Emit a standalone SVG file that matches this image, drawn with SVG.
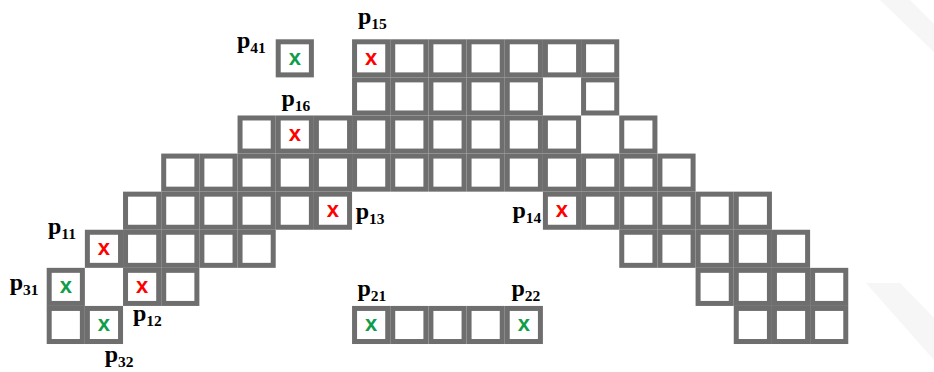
<svg xmlns="http://www.w3.org/2000/svg" xmlns:xlink="http://www.w3.org/1999/xlink" width="934" height="372" viewBox="0 0 934 372">
  <style>
    .cell { fill: #ffffff; stroke: #6e6e6e; stroke-width: 5; }
    .mark { font-family: "Liberation Sans", Arial, sans-serif; font-weight: bold; font-size: 22px; text-anchor: middle; }
    .red { fill: #ff0000; }
    .green { fill: #0f9d4a; }
    .lbl { font-family: "Liberation Serif", "Times New Roman", serif; font-weight: bold; font-size: 24px; fill: #000000; }
    .sub { font-size: 15.5px; }
  </style>
  <defs>
    <!-- one grid square: 38.17 x 38.09 pitch, 5px frame drawn inside -->
    <rect id="cell" class="cell" x="2.5" y="2.5" width="33.17" height="33.09"/>
  </defs>

  <rect width="934" height="372" fill="#ffffff"/>

  <!-- faint corner emblem -->
  <g id="emblem" fill="#f6f6f6">
    <polygon points="880,0 910,0 934,24 934,52"/>
    <polygon points="866,283 900,283 934,318 934,360"/>
  </g>

  <!-- main arch of squares -->
  <g id="arch">
    <!-- row 0 -->
    <use xlink:href="#cell" x="352.06" y="39.3"/>
    <use xlink:href="#cell" x="390.23" y="39.3"/>
    <use xlink:href="#cell" x="428.4" y="39.3"/>
    <use xlink:href="#cell" x="466.57" y="39.3"/>
    <use xlink:href="#cell" x="504.74" y="39.3"/>
    <use xlink:href="#cell" x="542.91" y="39.3"/>
    <use xlink:href="#cell" x="581.08" y="39.3"/>
    <!-- row 1 -->
    <use xlink:href="#cell" x="352.06" y="77.39"/>
    <use xlink:href="#cell" x="390.23" y="77.39"/>
    <use xlink:href="#cell" x="428.4" y="77.39"/>
    <use xlink:href="#cell" x="466.57" y="77.39"/>
    <use xlink:href="#cell" x="504.74" y="77.39"/>
    <use xlink:href="#cell" x="581.08" y="77.39"/>
    <!-- row 2 -->
    <use xlink:href="#cell" x="237.55" y="115.48"/>
    <use xlink:href="#cell" x="275.72" y="115.48"/>
    <use xlink:href="#cell" x="313.89" y="115.48"/>
    <use xlink:href="#cell" x="352.06" y="115.48"/>
    <use xlink:href="#cell" x="390.23" y="115.48"/>
    <use xlink:href="#cell" x="428.4" y="115.48"/>
    <use xlink:href="#cell" x="466.57" y="115.48"/>
    <use xlink:href="#cell" x="504.74" y="115.48"/>
    <use xlink:href="#cell" x="542.91" y="115.48"/>
    <use xlink:href="#cell" x="619.25" y="115.48"/>
    <!-- row 3 -->
    <use xlink:href="#cell" x="161.21" y="153.57"/>
    <use xlink:href="#cell" x="199.38" y="153.57"/>
    <use xlink:href="#cell" x="237.55" y="153.57"/>
    <use xlink:href="#cell" x="275.72" y="153.57"/>
    <use xlink:href="#cell" x="313.89" y="153.57"/>
    <use xlink:href="#cell" x="352.06" y="153.57"/>
    <use xlink:href="#cell" x="390.23" y="153.57"/>
    <use xlink:href="#cell" x="428.4" y="153.57"/>
    <use xlink:href="#cell" x="466.57" y="153.57"/>
    <use xlink:href="#cell" x="504.74" y="153.57"/>
    <use xlink:href="#cell" x="542.91" y="153.57"/>
    <use xlink:href="#cell" x="581.08" y="153.57"/>
    <use xlink:href="#cell" x="619.25" y="153.57"/>
    <use xlink:href="#cell" x="657.42" y="153.57"/>
    <!-- row 4 -->
    <use xlink:href="#cell" x="123.04" y="191.66"/>
    <use xlink:href="#cell" x="161.21" y="191.66"/>
    <use xlink:href="#cell" x="199.38" y="191.66"/>
    <use xlink:href="#cell" x="237.55" y="191.66"/>
    <use xlink:href="#cell" x="275.72" y="191.66"/>
    <use xlink:href="#cell" x="313.89" y="191.66"/>
    <use xlink:href="#cell" x="542.91" y="191.66"/>
    <use xlink:href="#cell" x="581.08" y="191.66"/>
    <use xlink:href="#cell" x="619.25" y="191.66"/>
    <use xlink:href="#cell" x="657.42" y="191.66"/>
    <use xlink:href="#cell" x="695.59" y="191.66"/>
    <use xlink:href="#cell" x="733.76" y="191.66"/>
    <!-- row 5 -->
    <use xlink:href="#cell" x="84.87" y="229.75"/>
    <use xlink:href="#cell" x="123.04" y="229.75"/>
    <use xlink:href="#cell" x="161.21" y="229.75"/>
    <use xlink:href="#cell" x="199.38" y="229.75"/>
    <use xlink:href="#cell" x="237.55" y="229.75"/>
    <use xlink:href="#cell" x="619.25" y="229.75"/>
    <use xlink:href="#cell" x="657.42" y="229.75"/>
    <use xlink:href="#cell" x="695.59" y="229.75"/>
    <use xlink:href="#cell" x="733.76" y="229.75"/>
    <use xlink:href="#cell" x="771.93" y="229.75"/>
    <!-- row 6 -->
    <use xlink:href="#cell" x="123.04" y="267.84"/>
    <use xlink:href="#cell" x="161.21" y="267.84"/>
    <use xlink:href="#cell" x="695.59" y="267.84"/>
    <use xlink:href="#cell" x="733.76" y="267.84"/>
    <use xlink:href="#cell" x="771.93" y="267.84"/>
    <use xlink:href="#cell" x="810.1" y="267.84"/>
    <!-- row 7 -->
    <use xlink:href="#cell" x="733.76" y="305.93"/>
    <use xlink:href="#cell" x="771.93" y="305.93"/>
    <use xlink:href="#cell" x="810.1" y="305.93"/>
  </g>

  <!-- lone square top left -->
  <g id="block-p41">
    <use xlink:href="#cell" x="275.72" y="39.3"/>
  </g>

  <!-- small L block bottom left -->
  <g id="block-p31">
    <use xlink:href="#cell" x="46.7" y="267.84"/>
    <use xlink:href="#cell" x="46.7" y="305.93"/>
    <use xlink:href="#cell" x="84.87" y="305.93"/>
  </g>

  <!-- horizontal strip bottom middle -->
  <g id="block-p21">
    <use xlink:href="#cell" x="352.06" y="305.93"/>
    <use xlink:href="#cell" x="390.23" y="305.93"/>
    <use xlink:href="#cell" x="428.4" y="305.93"/>
    <use xlink:href="#cell" x="466.57" y="305.93"/>
    <use xlink:href="#cell" x="504.74" y="305.93"/>
  </g>

  <!-- x marks -->
  <g id="marks" class="mark">
    <text class="red" x="371.14" y="64.6">x</text>
    <text class="red" x="294.8" y="140.8">x</text>
    <text class="red" x="332.97" y="217">x</text>
    <text class="red" x="561.99" y="217">x</text>
    <text class="red" x="103.95" y="255.1">x</text>
    <text class="red" x="142.12" y="293.2">x</text>
    <text class="green" x="294.8" y="64.6">x</text>
    <text class="green" x="65.78" y="293.2">x</text>
    <text class="green" x="103.95" y="331.3">x</text>
    <text class="green" x="371.14" y="331.3">x</text>
    <text class="green" x="523.82" y="331.3">x</text>
  </g>

  <!-- point labels -->
  <g id="labels" class="lbl">
    <text x="237" y="47.8">p<tspan class="sub" dy="5">41</tspan></text>
    <text x="358" y="24.3">p<tspan class="sub" dy="5">15</tspan></text>
    <text x="281.4" y="105.8">p<tspan class="sub" dy="5">16</tspan></text>
    <text x="48" y="234.2">p<tspan class="sub" dy="5">11</tspan></text>
    <text x="9.7" y="290.2">p<tspan class="sub" dy="5">31</tspan></text>
    <text x="133" y="320.8">p<tspan class="sub" dy="5">12</tspan></text>
    <text x="104.7" y="362.2">p<tspan class="sub" dy="5">32</tspan></text>
    <text x="355.7" y="219.2">p<tspan class="sub" dy="5">13</tspan></text>
    <text x="512.4" y="217.5">p<tspan class="sub" dy="5">14</tspan></text>
    <text x="357.4" y="295.8">p<tspan class="sub" dy="5">21</tspan></text>
    <text x="511.4" y="295.8">p<tspan class="sub" dy="5">22</tspan></text>
  </g>
</svg>
